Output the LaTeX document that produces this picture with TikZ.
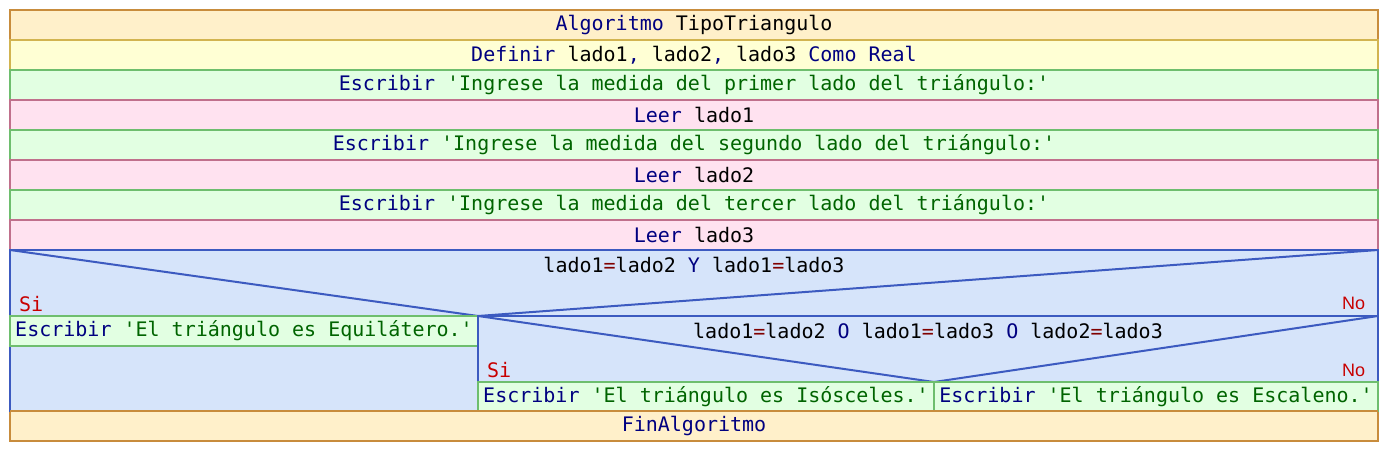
\documentclass[tikz,border=0pt]{standalone}
\usepackage{fontspec}
\setmonofont{DejaVu Sans Mono}
\newfontfamily\nofont{Liberation Sans}
\definecolor{algfill}{RGB}{255,240,202}
\definecolor{algline}{RGB}{200,140,60}
\definecolor{deffill}{RGB}{255,255,212}
\definecolor{defline}{RGB}{210,180,80}
\definecolor{escfill}{RGB}{226,255,226}
\definecolor{escline}{RGB}{110,190,110}
\definecolor{leerfill}{RGB}{255,226,240}
\definecolor{leerline}{RGB}{192,112,140}
\definecolor{siffill}{RGB}{214,228,250}
\definecolor{sifline}{RGB}{60,90,192}
\definecolor{kwcol}{RGB}{0,0,128}
\definecolor{strcol}{RGB}{0,100,0}
\definecolor{opcol}{RGB}{128,0,0}
\definecolor{sinocol}{RGB}{200,0,0}
\newcommand{\kwd}[1]{\textcolor{kwcol}{#1}}
\newcommand{\strg}[1]{\textcolor{strcol}{#1}}
\newcommand{\opr}[1]{\textcolor{opcol}{#1}}
\tikzset{
	algrow/.style={draw=algline, fill=algfill},
	defrow/.style={draw=defline, fill=deffill},
	escrow/.style={draw=escline, fill=escfill},
	leerrow/.style={draw=leerline, fill=leerfill},
	sirow/.style={draw=sifline, fill=siffill},
	sidiag/.style={draw=sifline},
	silabel/.style={text=sinocol, anchor=base west},
	nolabel/.style={text=sinocol, anchor=base east, font=\nofont\fontsize{13.5}{15}\selectfont}
}
\begin{document}
\begin{tikzpicture}[x=0.75pt,y=0.75pt,yscale=-1,xscale=1,line width=1.5pt,
	every node/.style={inner sep=0pt, font=\ttfamily\fontsize{15}{18}\selectfont}]
\useasboundingbox (0,0) rectangle (1388,452);

% sequence rows
\draw[algrow] (10,10) rectangle (1378,40);
\draw[defrow] (10,40) rectangle (1378,70);
\draw[escrow] (10,70) rectangle (1378,100);
\draw[leerrow] (10,100) rectangle (1378,130);
\draw[escrow] (10,130) rectangle (1378,160);
\draw[leerrow] (10,160) rectangle (1378,190);
\draw[escrow] (10,190) rectangle (1378,220);
\draw[leerrow] (10,220) rectangle (1378,250);
\draw[algrow] (10,411) rectangle (1378,441);

\node (alg) at (694,25) {\kwd{Algoritmo} TipoTriangulo};
\node (def) at (694,55) {\kwd{Definir} lado1\kwd{,} lado2\kwd{,} lado3 \kwd{Como Real}};
\node (esc1) at (694,85) {\kwd{Escribir} \strg{'Ingrese la medida del primer lado del triángulo:'}};
\node (leer1) at (694,115) {\kwd{Leer} lado1};
\node (esc2) at (694,145) {\kwd{Escribir} \strg{'Ingrese la medida del segundo lado del triángulo:'}};
\node (leer2) at (694,175) {\kwd{Leer} lado2};
\node (esc3) at (694,205) {\kwd{Escribir} \strg{'Ingrese la medida del tercer lado del triángulo:'}};
\node (leer3) at (694,235) {\kwd{Leer} lado3};
\node (fin) at (694,426) {\kwd{FinAlgoritmo}};

% outer if
\draw[sirow] (10,250) rectangle (1378,411);
\coordinate (sitl) at (10,250);
\coordinate (sitr) at (1378,250);
\coordinate (siv) at (478,316);
\draw[sidiag] (sitl) -- (siv) -- (sitr);
\node (cond1) at (694,265) {lado1\opr{=}lado2 \kwd{Y} lado1\opr{=}lado3};
\node[silabel] (si1) at (18,311) {Si};
\node[nolabel] (no1) at (1366,310) {No};
\draw[escrow] (10,316) rectangle (478,346);
\node (equi) at (244,331) {\kwd{Escribir} \strg{'El triángulo es Equilátero.'}};

% inner if
\draw[sidiag] (478,316) rectangle (1378,411);
\coordinate (sir) at (1378,316);
\coordinate (sivv) at (934,382);
\draw[sidiag] (siv) -- (sivv) -- (sir);
\node (cond2) at (928,331) {lado1\opr{=}lado2 \kwd{O} lado1\opr{=}lado3 \kwd{O} lado2\opr{=}lado3};
\node[silabel] (si2) at (486,377) {Si};
\node[nolabel] (no2) at (1366,376) {No};
\draw[escrow] (478,382) rectangle (934,411);
\draw[escrow] (934,382) rectangle (1378,411);
\node (isos) at (706,396.5) {\kwd{Escribir} \strg{'El triángulo es Isósceles.'}};
\node (esca) at (1156,396.5) {\kwd{Escribir} \strg{'El triángulo es Escaleno.'}};
\draw[algline] (10,411) -- (1378,411);
\end{tikzpicture}
\end{document}
